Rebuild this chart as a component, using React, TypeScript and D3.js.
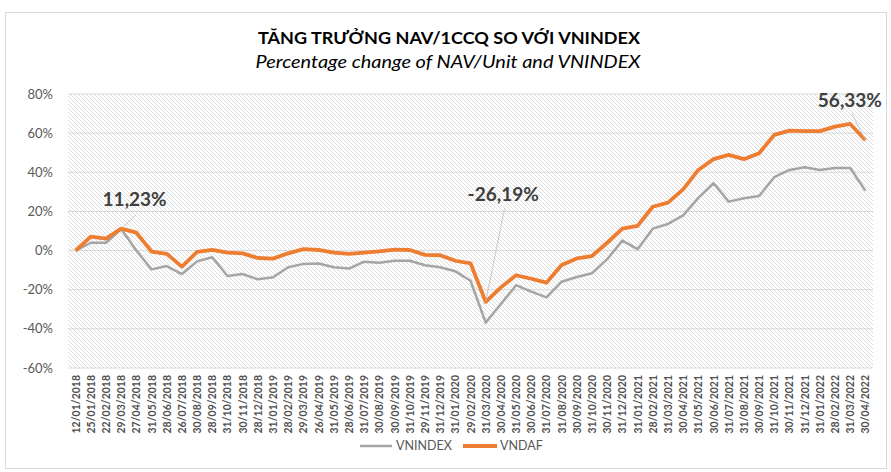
import React from "react";
import * as d3 from "d3";

const categories: string[] = [
  "12/01/2018", "25/01/2018", "22/02/2018", "29/03/2018", "27/04/2018", "31/05/2018", "28/06/2018", "26/07/2018",
  "30/08/2018", "28/09/2018", "31/10/2018", "30/11/2018", "28/12/2018",
  "31/01/2019", "28/02/2019", "29/03/2019", "26/04/2019", "31/05/2019", "28/06/2019", "31/07/2019", "30/08/2019",
  "30/09/2019", "31/10/2019", "29/11/2019", "31/12/2019",
  "31/01/2020", "29/02/2020", "31/03/2020", "30/04/2020", "31/05/2020", "30/06/2020", "31/07/2020", "31/08/2020",
  "30/09/2020", "31/10/2020", "30/11/2020", "31/12/2020",
  "31/01/2021", "28/02/2021", "31/03/2021", "30/04/2021", "31/05/2021", "30/06/2021", "31/07/2021", "31/08/2021",
  "30/09/2021", "31/10/2021", "30/11/2021", "31/12/2021",
  "31/01/2022", "28/02/2022", "31/03/2022", "30/04/2022",
];

const vnindex: number[] = [
  0, 4, 4, 11, 0, -9.6, -7.9, -12, -5.5, -3.4, -13, -12, -14.7,
  -13.6, -8.5, -6.8, -6.6, -8.5, -9.2, -5.7, -6.2, -5.2, -5.2, -7.5, -8.5,
  -10.6, -15.4, -36.8, -27.3, -17.7, -21, -23.9, -15.9, -13.5, -11.6, -4.4, 5.1,
  0.7, 11.2, 13.6, 18, 26.9, 34.4, 25, 26.7, 27.9, 37.5, 41.2, 42.6,
  41.2, 42.2, 42.2, 30.6,
];

const vndaf: number[] = [
  0, 7.1, 6.1, 11.23, 9.2, -0.5, -1.7, -8.2, -0.7, 0.3, -1.1, -1.4, -3.8,
  -4.1, -1.4, 0.7, 0.3, -1.1, -1.7, -1.1, -0.4, 0.5, 0.3, -2.2, -2.4,
  -5.2, -6.5, -26.19, -18.8, -12.6, -14.4, -16.4, -7.4, -4, -2.8, 4, 11.2,
  12.6, 22.4, 24.5, 31.3, 41.2, 46.7, 48.9, 46.7, 49.7, 59.1, 61.3, 61,
  61, 63.3, 64.7, 56.33,
];

const yTicks: number[] = [-60, -40, -20, 0, 20, 40, 60, 80];

const seriesNames: string[] = ["VNINDEX", "VNDAF"];

const annotations: { index: number; label: string }[] = [
  { index: 3, label: "11,23%" },
  { index: 27, label: "-26,19%" },
  { index: 52, label: "56,33%" },
];

const W = 891;
const H = 472;
const FONT = "Lato, 'Open Sans', sans-serif";

export default function App() {
  const plot = { left: 68, right: 873, top: 94, bottom: 368 };
  const x = d3
    .scaleBand<string>()
    .domain(categories)
    .range([plot.left, plot.right]);
  const xc = (c: string) => (x(c) as number) + x.bandwidth() / 2;
  const y = d3.scaleLinear().domain([-60, 80]).range([plot.bottom, plot.top]);

  const line = d3
    .line<number>()
    .x((_, i) => xc(categories[i]))
    .y((d) => y(d));

  const annoOffsets = [
    { dx: 13.5, dy: -29, lx: 15, ly: -14 },
    { dx: 17.5, dy: -107, lx: 19, ly: -94 },
    { dx: -15.5, dy: -40, lx: -13.5, ly: -27 },
  ];

  return (
    <svg
      width={W}
      height={H}
      style={{ position: "absolute", left: 0, top: 0, background: "#fff" }}
    >
      <defs>
        <pattern id="hatch" width="4" height="4" patternUnits="userSpaceOnUse">
          <rect width="4" height="4" fill="#ffffff" />
          <path d="M-1,-1 L5,5 M-1,3 L1,5 M3,-1 L5,1" stroke="#d4d4d4" strokeWidth="0.8" />
        </pattern>
      </defs>
      <rect x={5.5} y={12.5} width={881} height={456} fill="#fff" stroke="#d9d9d9" strokeWidth={1} />

      <text
        x={449}
        y={44}
        textAnchor="middle"
        fontFamily={FONT}
        fontWeight={700}
        fontSize={17}
        fill="#000"
        textLength={382}
        lengthAdjust="spacingAndGlyphs"
      >
        TĂNG TRƯỞNG NAV/1CCQ SO VỚI VNINDEX
      </text>
      <text
        x={448}
        y={68}
        textAnchor="middle"
        fontFamily={FONT}
        fontStyle="italic"
        fontSize={17}
        fill="#000"
        textLength={385}
        lengthAdjust="spacingAndGlyphs"
      >
        Percentage change of NAV/Unit and VNINDEX
      </text>

      <rect
        x={plot.left}
        y={plot.top}
        width={plot.right - plot.left}
        height={plot.bottom - plot.top}
        fill="url(#hatch)"
      />

      {yTicks.map((t) => (
        <g key={t}>
          <line
            x1={plot.left}
            x2={plot.right}
            y1={y(t)}
            y2={y(t)}
            stroke="#d9d9d9"
            strokeWidth={1}
          />
          <text
            x={53}
            y={y(t)}
            dy="0.35em"
            textAnchor="end"
            fontFamily={FONT}
            fontSize={13}
            fill="#595959"
          >
            {`${t}%`}
          </text>
        </g>
      ))}

      {categories.map((c) => (
        <text
          key={c}
          transform={`translate(${xc(c) + 4},${375}) rotate(-90)`}
          textAnchor="end"
          fontFamily={FONT}
          fontSize={10.5}
          fontWeight={700}
          fill="#505050"
        >
          {c}
        </text>
      ))}

      <path d={line(vnindex) || ""} fill="none" stroke="#a5a5a5" strokeWidth={2.5} strokeLinejoin="round" />
      <path d={line(vndaf) || ""} fill="none" stroke="#ed7d31" strokeWidth={3.8} strokeLinejoin="round" />

      {annotations.map((a, k) => {
        const px = xc(categories[a.index]);
        const py = y(vndaf[a.index]);
        const o = annoOffsets[k];
        return (
          <g key={a.label}>
            <line x1={px} y1={py} x2={px + o.lx} y2={py + o.ly} stroke="#bfbfbf" strokeWidth={0.8} />
            <text
              x={px + o.dx}
              y={py + o.dy}
              dy="0.35em"
              textAnchor="middle"
              fontFamily={FONT}
              fontWeight={700}
              fontSize={19}
              fill="#404040"
            >
              {a.label}
            </text>
          </g>
        );
      })}

      <g fontFamily={FONT} fontSize={12.5} fill="#595959">
        <line x1={360} x2={392} y1={446} y2={446} stroke="#a5a5a5" strokeWidth={2.5} />
        <text x={396} y={446} dy="0.35em">{seriesNames[0]}</text>
        <line x1={463} x2={497} y1={446} y2={446} stroke="#ed7d31" strokeWidth={3.8} />
        <text x={500} y={446} dy="0.35em">{seriesNames[1]}</text>
      </g>
    </svg>
  );
}
